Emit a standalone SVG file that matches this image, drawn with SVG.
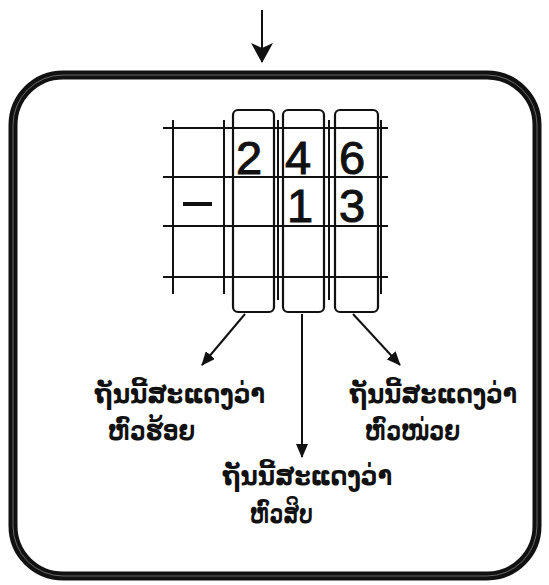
<svg xmlns="http://www.w3.org/2000/svg" width="549" height="585" viewBox="0 0 549 585">
<style>
.grid{stroke:#111;stroke-width:2;fill:none}
.col{stroke:#111;stroke-width:2.2;fill:none}
.conn{stroke:#111;stroke-width:2;fill:none}
.dig{font-family:"Liberation Sans",Arial,sans-serif;font-size:47px;fill:#111;stroke:#111;stroke-width:1}
.lbl{font-family:"DejaVu Sans","Noto Sans",sans-serif;font-size:26px;font-weight:bold;fill:#111}
</style>
<defs>
<marker id="ah" markerWidth="14" markerHeight="12" refX="13" refY="6" orient="auto" markerUnits="userSpaceOnUse" viewBox="0 0 14 12">
<path d="M0,0 L14,6 L0,12 z" fill="#111"/>
</marker>
<marker id="ahBig" markerWidth="20" markerHeight="22" refX="19" refY="11" orient="auto" markerUnits="userSpaceOnUse" viewBox="0 0 20 22">
<path d="M0,0 L20,11 L0,22 L5,11 z" fill="#111"/>
</marker>
</defs>
<rect width="549" height="585" fill="#fff"/>
<g id="connectors">
<line class="conn" x1="262" y1="10" x2="262" y2="62" stroke-width="4" marker-end="url(#ahBig)"/>
<line class="conn" x1="245" y1="314" x2="202" y2="365" marker-end="url(#ah)"/>
<line class="conn" x1="302" y1="314" x2="302" y2="457" marker-end="url(#ah)"/>
<line class="conn" x1="353" y1="314" x2="400" y2="365" marker-end="url(#ah)"/>
</g>
<g id="outer-box">
<rect x="13" y="75" width="524" height="501" rx="50" ry="50" fill="none" stroke="#111" stroke-width="9"/>
<rect x="13" y="75" width="524" height="501" rx="50" ry="50" fill="none" stroke="#666" stroke-width="1"/>
</g>
<g id="grid">
<line class="grid" x1="163" y1="128" x2="388" y2="128"/>
<line class="grid" x1="163" y1="177" x2="388" y2="177"/>
<line class="grid" x1="163" y1="226" x2="388" y2="226" stroke-width="4"/>
<line class="grid" x1="163" y1="277" x2="388" y2="277"/>
<line class="grid" x1="173" y1="120" x2="173" y2="294"/>
<line class="grid" x1="224" y1="120" x2="224" y2="294"/>
<line class="grid" x1="278" y1="120" x2="278" y2="300"/>
<line class="grid" x1="329" y1="120" x2="329" y2="300"/>
<line class="grid" x1="381" y1="120" x2="381" y2="294"/>
</g>
<g id="col-hundreds"><rect class="col" x="233" y="110" width="41" height="202" rx="5"/></g>
<g id="col-tens"><rect class="col" x="283" y="110" width="41" height="202" rx="5"/></g>
<g id="col-units"><rect class="col" x="335" y="110" width="43" height="202" rx="5"/></g>
<g id="digits">
<text class="dig" x="236" y="174">2</text>
<text class="dig" x="285" y="174">4</text>
<text class="dig" x="339" y="174">6</text>
<text class="dig" x="287" y="222">1</text>
<text class="dig" x="339" y="222">3</text>
<line x1="183" y1="204" x2="212" y2="204" stroke="#111" stroke-width="4"/>
</g>
<g id="label-hundreds">
<text class="lbl" x="95" y="403" textLength="170" lengthAdjust="spacingAndGlyphs">ຖັນນີ້ສະແດງວ່າ</text>
<text class="lbl" x="108" y="440" textLength="87" lengthAdjust="spacingAndGlyphs">ຫົວຮ້ອຍ</text>
</g>
<g id="label-units">
<text class="lbl" x="350" y="403" textLength="167" lengthAdjust="spacingAndGlyphs">ຖັນນີ້ສະແດງວ່າ</text>
<text class="lbl" x="365" y="440" textLength="95" lengthAdjust="spacingAndGlyphs">ຫົວໜ່ວຍ</text>
</g>
<g id="label-tens">
<text class="lbl" x="223" y="485" textLength="169" lengthAdjust="spacingAndGlyphs">ຖັນນີ້ສະແດງວ່າ</text>
<text class="lbl" x="250" y="523" textLength="63" lengthAdjust="spacingAndGlyphs">ຫົວສິບ</text>
</g>
</svg>
